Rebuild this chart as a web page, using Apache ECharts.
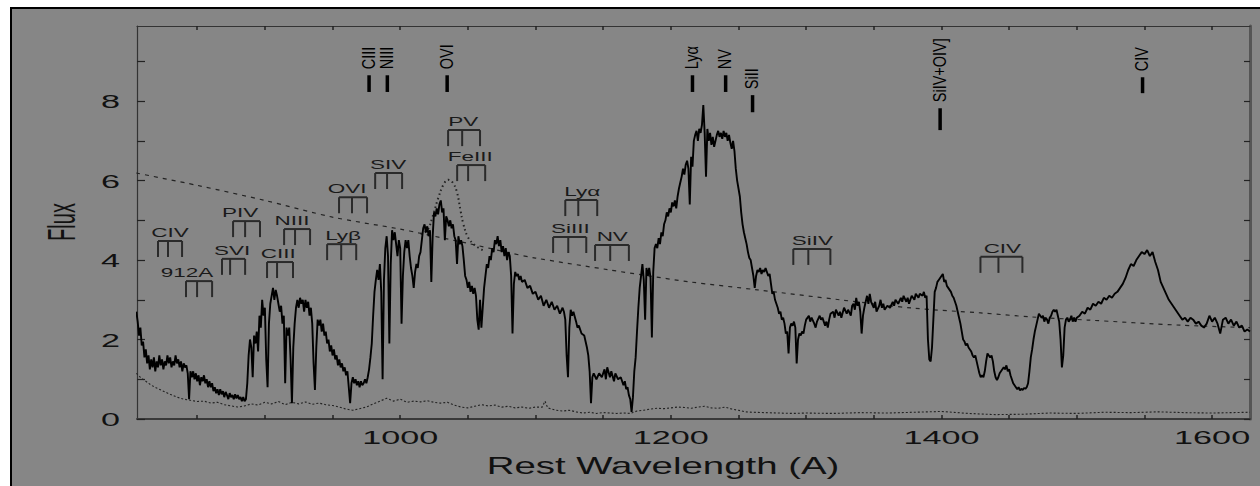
<!DOCTYPE html>
<html><head><meta charset="utf-8">
<script src="https://cdn.jsdelivr.net/npm/echarts@6/dist/echarts.min.js"></script>
<style>
html,body{margin:0;padding:0;background:#fff;}
#wrap{position:relative;width:1260px;height:486px;overflow:hidden;background:#fff;}
#panel{position:absolute;left:10px;top:7px;width:1320px;height:540px;background:#868686;border-left:2px solid #000;border-top:2px solid #000;box-sizing:border-box;}
#chart{position:absolute;left:0;top:0;width:1260px;height:486px;}
</style></head><body>
<div id="wrap"><div id="panel"></div><div id="chart"></div></div>
<script>
// ---- data ----
const spectrum = [
[805,2.70],[806,2.45],[807,2.1],[808,2.3],[809,1.85],[810,1.95],[811,1.55],[812,1.75],[813,1.4],[814,1.6],[815,1.25],[816,1.5],[817,1.3],[818,1.55],[819,1.2],[820,1.45],
[821,1.3],[822,1.6],[823,1.35],[824,1.5],[825,1.25],[826,1.45],[827,1.35],[828,1.6],[829,1.4],[830,1.55],[831,1.3],[832,1.45],[833,1.35],[834,1.6],[835,1.4],[836,1.5],
[837,1.3],[838,1.45],[839,1.2],[840,1.4],[841,1.3],[842,1.35],[843,1.15],[844,0.5],[845,1.2],[846,1.05],[847,1.2],[848,1.0],[849,1.15],[850,0.95],[851,1.1],[852,0.85],
[853,1.05],[854,0.95],[855,1.1],[856,0.9],[857,1.0],[858,0.8],[859,0.95],[860,0.8],[861,0.9],[862,0.7],[863,0.8],[864,0.65],[865,0.75],[866,0.6],[867,0.75],[868,0.62],
[869,0.7],[870,0.55],[871,0.68],[872,0.6],[873,0.5],[874,0.65],[875,0.55],[876,0.6],[877,0.5],[878,0.62],[879,0.52],[880,0.6],[881,0.5],[882,0.55],[883,0.45],[884,0.55],
[885,0.45],[886,0.5],[887,0.9],[888,1.6],[889,2.0],[890,1.8],[891,1.05],[892,2.1],[893,1.9],[894,2.2],[895,1.7],[896,2.6],[897,2.3],[898,3.0],[899,2.6],[900,2.8],
[901,1.5],[902,0.8],[903,2.4],[904,2.9],[905,3.1],[906,3.3],[907,3.0],[908,3.25],[909,3.1],[910,2.9],[911,2.7],[912,2.85],[913,2.4],[914,2.6],[915,0.9],[916,2.3],
[917,2.1],[918,2.3],[919,1.5],[920,0.4],[921,1.8],[922,2.4],[923,2.8],[924,3.0],[925,2.8],[926,3.05],[927,2.9],[928,3.0],[929,2.7],[930,3.0],[931,2.8],[932,2.95],
[933,2.6],[934,2.8],[935,2.4],[936,1.4],[937,0.73],[938,1.8],[939,2.5],[940,2.35],[941,2.5],[942,2.2],[943,2.4],[944,2.1],[945,2.2],[946,1.9],[947,2.0],[948,1.7],
[949,1.85],[950,1.6],[951,1.75],[952,1.5],[953,1.6],[954,1.35],[955,1.5],[956,1.3],[957,1.4],[958,1.2],[959,1.3],[960,1.1],[961,1.2],[962,0.8],[963,0.4],[964,0.9],
[965,1.05],[966,0.9],[967,1.0],[968,0.85],[969,0.95],[970,0.8],[971,0.95],[972,0.85],[973,0.9],[974,1.0],[975,0.9],[976,1.05],[977,1.25],[978,1.55],[979,1.9],[980,2.6],
[981,3.2],[982,3.5],[983,3.75],[984,3.5],[985,3.9],[986,3.2],[987,1.0],[988,3.5],[989,4.3],[990,4.6],[991,4.1],[992,1.9],[993,3.9],[994,4.75],[995,4.5],[996,4.7],
[997,4.4],[998,4.1],[999,4.5],[1000,4.3],[1001,2.4],[1002,3.6],[1003,4.2],[1004,4.5],[1005,4.3],[1006,4.5],[1007,4.1],[1008,3.8],[1009,3.6],[1010,3.3],[1011,3.7],[1012,3.9],
[1013,3.8],[1014,4.1],[1015,4.2],[1016,4.5],[1017,4.8],[1018,4.9],[1019,4.7],[1020,4.85],[1021,4.6],[1022,4.75],[1023,3.45],[1024,4.6],[1025,5.2],[1026,5.1],[1027,5.3],[1028,5.15],
[1029,5.4],[1030,5.5],[1031,5.2],[1032,5.3],[1033,4.5],[1034,5.1],[1035,5.0],[1036,4.85],[1037,5.0],[1038,4.8],[1039,4.9],[1040,4.6],[1041,4.5],[1042,3.9],[1043,4.6],[1044,4.4],
[1045,4.5],[1046,4.35],[1047,4.0],[1048,3.6],[1049,3.5],[1050,3.3],[1051,3.45],[1052,3.2],[1053,3.35],[1054,3.15],[1055,3.3],[1056,3.1],[1057,2.5],[1058,2.25],[1059,3.0],[1060,2.3],
[1061,2.8],[1062,3.3],[1063,3.6],[1064,3.9],[1065,3.8],[1066,4.1],[1067,4.0],[1068,4.3],[1069,4.2],[1070,4.5],[1071,4.4],[1072,4.6],[1073,4.35],[1074,4.5],[1075,4.2],[1076,4.35],
[1077,4.1],[1078,4.3],[1079,4.0],[1080,4.2],[1081,4.1],[1082,3.6],[1083,2.15],[1084,3.4],[1085,3.7],[1086,3.6],[1087,3.65],[1088,3.5],[1089,3.6],[1090,3.45],[1092,3.5],[1094,3.3],
[1096,3.35],[1098,3.15],[1100,3.2],[1102,3.0],[1104,3.1],[1106,2.85],[1108,3.0],[1110,2.8],[1112,2.95],[1114,2.75],[1116,2.85],[1118,2.65],[1120,2.8],[1121,2.7],[1122,2.5],[1123,1.6],
[1124,1.05],[1125,2.3],[1126,2.75],[1127,2.6],[1128,2.7],[1130,2.45],[1131,2.3],[1132,2.35],[1134,2.15],[1136,2.1],[1137,1.95],[1138,1.8],[1139,1.6],[1140,1.2],[1141,0.4],[1142,1.05],
[1143,1.15],[1145,1.0],[1147,1.15],[1149,1.05],[1151,1.25],[1152,1.0],[1153,1.3],[1155,1.05],[1156,1.2],[1158,0.95],[1159,1.15],[1161,1.0],[1163,1.05],[1165,0.85],[1166,0.95],[1167,0.75],
[1168,0.8],[1169,0.6],[1170,0.5],[1171,0.18],[1172,0.55],[1173,1.2],[1174,1.55],[1175,2.2],[1176,2.8],[1177,3.3],[1178,3.6],[1179,3.9],[1180,3.5],[1181,2.5],[1182,3.8],[1183,3.6],
[1184,3.8],[1185,3.55],[1186,2.05],[1187,3.7],[1188,4.3],[1189,4.4],[1190,4.3],[1191,4.55],[1192,4.4],[1193,4.7],[1194,4.6],[1195,4.9],[1196,5.0],[1197,5.2],[1198,5.1],[1199,5.3],
[1200,5.2],[1201,5.45],[1202,5.35],[1203,5.5],[1204,5.3],[1205,5.6],[1206,5.8],[1207,5.95],[1208,6.1],[1209,6.3],[1210,6.15],[1211,6.4],[1212,6.5],[1213,6.3],[1214,5.4],[1215,6.6],
[1216,6.35],[1217,7.0],[1218,7.15],[1219,7.25],[1220,7.0],[1221,7.3],[1222,7.2],[1223,7.4],[1224,7.9],[1225,7.2],[1226,6.1],[1227,7.3],[1228,7.0],[1229,7.2],[1230,6.9],[1231,7.1],
[1232,6.85],[1233,7.0],[1234,7.15],[1235,7.25],[1236,7.1],[1237,7.2],[1238,7.05],[1239,7.25],[1240,7.1],[1241,7.2],[1242,7.0],[1243,7.15],[1244,6.95],[1245,6.8],[1246,7.0],[1247,6.75],
[1248,6.3],[1249,6.0],[1250,5.8],[1251,5.6],[1252,5.2],[1253,4.9],[1254,4.7],[1255,4.55],[1256,4.4],[1257,4.2],[1258,4.05],[1259,4.0],[1260,3.8],[1261,3.6],[1262,3.3],[1263,3.6],
[1264,3.75],[1265,3.7],[1266,3.8],[1267,3.65],[1268,3.75],[1269,3.7],[1270,3.8],[1271,3.7],[1272,3.6],[1273,3.65],[1274,3.4],[1275,3.15],[1276,3.2],[1277,3.0],[1278,2.9],[1279,2.8],
[1280,2.65],[1281,2.7],[1282,2.5],[1283,2.55],[1284,2.4],[1285,2.15],[1286,2.2],[1287,1.65],[1288,2.3],[1289,2.4],[1290,2.35],[1291,2.45],[1292,2.3],[1293,1.4],[1294,2.0],[1295,2.15],
[1296,2.1],[1297,2.2],[1298,2.15],[1299,2.35],[1300,2.5],[1302,2.6],[1303,2.45],[1304,2.55],[1306,2.4],[1307,2.3],[1308,2.45],[1310,2.6],[1311,2.5],[1312,2.55],[1314,2.35],[1315,2.45],
[1316,2.3],[1317,2.5],[1318,2.65],[1320,2.7],[1321,2.55],[1322,2.75],[1324,2.6],[1325,2.7],[1326,2.55],[1328,2.8],[1330,2.65],[1331,2.75],[1333,2.6],[1334,2.85],[1335,2.9],[1336,2.75],
[1337,3.05],[1338,2.85],[1339,2.95],[1340,2.7],[1341,2.15],[1342,2.6],[1343,2.8],[1344,2.95],[1345,3.1],[1346,2.9],[1347,3.15],[1348,2.95],[1350,2.8],[1351,2.95],[1352,2.7],[1354,2.85],
[1355,3.0],[1356,2.8],[1357,2.9],[1358,2.75],[1360,2.85],[1362,2.8],[1364,2.95],[1365,2.85],[1366,3.0],[1368,2.9],[1370,3.05],[1371,2.95],[1372,3.1],[1374,2.95],[1375,3.05],[1376,2.9],
[1378,3.1],[1380,3.0],[1381,3.15],[1383,3.05],[1384,3.15],[1386,3.1],[1387,3.2],[1388,3.05],[1389,3.1],[1390,2.0],[1391,1.5],[1392,1.45],[1393,1.8],[1394,2.5],[1395,3.2],[1396,3.3],
[1397,3.45],[1398,3.5],[1399,3.55],[1400,3.6],[1401,3.65],[1402,3.45],[1403,3.5],[1404,3.35],[1405,3.3],[1406,3.25],[1407,3.2],[1408,3.1],[1409,3.05],[1410,2.95],[1411,2.85],[1412,2.7],
[1413,2.55],[1414,2.4],[1415,2.2],[1416,2.0],[1417,1.95],[1418,1.85],[1419,1.9],[1420,1.8],[1421,1.75],[1422,1.7],[1423,1.6],[1424,1.55],[1425,1.6],[1426,1.45],[1427,1.3],[1428,1.15],
[1429,1.05],[1430,1.1],[1431,1.05],[1432,1.2],[1433,1.45],[1434,1.65],[1435,1.6],[1436,1.55],[1437,1.6],[1438,1.45],[1439,1.2],[1440,1.05],[1441,0.98],[1442,1.05],[1443,1.15],[1444,1.2],
[1445,1.25],[1446,1.3],[1447,1.25],[1448,1.35],[1449,1.2],[1450,1.25],[1451,1.1],[1452,1.0],[1453,0.9],[1454,0.85],[1455,0.8],[1456,0.75],[1457,0.8],[1458,0.72],[1459,0.76],[1460,0.73],
[1461,0.78],[1462,0.76],[1463,0.8],[1464,0.9],[1465,1.2],[1466,1.55],[1467,1.75],[1468,2.0],[1469,2.2],[1470,2.35],[1471,2.5],[1472,2.65],[1473,2.6],[1474,2.55],[1475,2.6],[1476,2.45],
[1477,2.55],[1478,2.5],[1479,2.4],[1480,2.55],[1481,2.6],[1482,2.7],[1483,2.75],[1484,2.7],[1485,2.75],[1486,2.6],[1487,2.45],[1488,2.0],[1489,1.3],[1490,1.6],[1491,2.3],[1492,2.5],
[1493,2.55],[1494,2.45],[1495,2.5],[1496,2.6],[1497,2.45],[1498,2.55],[1499,2.45],[1500,2.55],[1502,2.6],[1504,2.7],[1506,2.65],[1508,2.8],[1510,2.75],[1512,2.9],[1514,2.85],[1516,2.95],
[1518,2.9],[1520,3.05],[1522,3.0],[1524,3.1],[1526,3.05],[1528,3.15],[1530,3.2],[1532,3.3],[1534,3.4],[1536,3.55],[1538,3.75],[1540,3.9],[1542,3.85],[1544,4.0],[1546,4.1],[1548,4.2],
[1550,4.15],[1552,4.25],[1554,4.1],[1556,4.2],[1558,3.95],[1560,3.75],[1562,3.45],[1564,3.3],[1566,3.15],[1568,3.0],[1570,2.9],[1572,2.8],[1574,2.7],[1576,2.6],[1578,2.5],[1580,2.55],
[1582,2.45],[1584,2.55],[1586,2.5],[1588,2.4],[1590,2.45],[1592,2.35],[1594,2.3],[1596,2.4],[1598,2.6],[1600,2.45],[1602,2.55],[1604,2.4],[1606,2.15],[1608,2.5],[1610,2.55],[1612,2.4],
[1614,2.5],[1616,2.35],[1618,2.45],[1620,2.3],[1622,2.35],[1624,2.2],[1626,2.25],[1628,2.2]
];
const continuum = [[805,6.19],[850,5.88],[900,5.5],[950,5.08],[1000,4.78],[1014,4.68],[1050,4.42],[1081,4.18],[1100,4.05],[1155,3.75],[1180,3.62],[1214,3.45],[1264,3.25],[1325,3.0],[1379,2.79],[1429,2.67],[1466,2.57],[1508,2.49],[1577,2.36],[1628,2.3]];
const ovBump = [[1015,4.66],[1020,4.75],[1024,5.1],[1028,5.55],[1032,5.9],[1035.5,6.02],[1039,5.94],[1042,5.7],[1044.5,5.26],[1046.5,4.93],[1050,4.58],[1055,4.38],[1061,4.25]];
const errorSpec = [[805,1.15],[808,1.05],[812,0.95],[816,0.85],[820,0.78],[825,0.7],[830,0.62],[835,0.55],[840,0.5],[845,0.47],[850,0.44],[855,0.45],[860,0.4],[865,0.42],[870,0.36],[875,0.33],[880,0.3],[885,0.33],[890,0.38],[895,0.35],[900,0.42],[905,0.38],[910,0.44],[915,0.36],[920,0.42],[925,0.38],[930,0.43],[935,0.37],[940,0.4],[945,0.36],[950,0.34],[955,0.3],[960,0.25],[965,0.22],[970,0.26],[975,0.3],[980,0.38],[985,0.45],[990,0.52],[995,0.45],[1000,0.5],[1005,0.42],[1010,0.45],[1015,0.43],[1020,0.46],[1025,0.42],[1030,0.4],[1035,0.42],[1040,0.35],[1045,0.3],[1050,0.28],[1055,0.32],[1060,0.36],[1065,0.33],[1070,0.35],[1075,0.3],[1080,0.32],[1085,0.28],[1090,0.3],[1095,0.27],[1100,0.3],[1105,0.3],[1107,0.45],[1109,0.28],[1115,0.22],[1120,0.2],[1125,0.22],[1130,0.18],[1135,0.15],[1140,0.17],[1145,0.14],[1150,0.16],[1155,0.15],[1160,0.14],[1165,0.15],[1170,0.14],[1175,0.2],[1180,0.22],[1185,0.25],[1190,0.27],[1195,0.26],[1200,0.28],[1205,0.3],[1210,0.29],[1215,0.27],[1220,0.3],[1225,0.32],[1230,0.28],[1235,0.27],[1240,0.3],[1245,0.25],[1250,0.22],[1255,0.18],[1260,0.17],[1270,0.16],[1280,0.15],[1290,0.14],[1300,0.15],[1320,0.14],[1340,0.16],[1360,0.15],[1380,0.17],[1400,0.19],[1420,0.14],[1440,0.11],[1460,0.12],[1480,0.15],[1500,0.14],[1520,0.17],[1540,0.16],[1560,0.18],[1580,0.16],[1600,0.15],[1628,0.17]];

// emission line identifications (top)
const emNames = ['CIII','NIII','OVI','Ly\u03b1','NV','SiII','SiIV+OIV]','CIV'];
const emWaves = [977,990.5,1034.7,1216,1240.5,1260.4,1399,1548.6];
const emTop = [8.65,8.65,8.65,8.65,8.65,8.15,7.82,8.6];
const emBottom = [8.23,8.23,8.23,8.23,8.23,7.72,7.27,8.2];

// absorption line markers (combs)
const absNames = ['CIV','912A','PIV','SVI','NIII','CIII','Ly\u03b2','OVI','SIV','PV','FeIII','Ly\u03b1','SiIII','NV','SiIV','CIV'];
const absProngs = [[821,828.4,838.8],[841.7,849.9,861],[876.5,885.4,896.4],[868.3,874.3,885.4],[914.2,922.3,933.4],[901.6,909,920.8],[946,956.4,967.5],[954.8,964.4,975.5],[981.5,990.3,1001.4],[1035.4,1045.8,1059],[1042.1,1050.2,1062.8],[1122,1131.6,1145.6],[1113,1124.2,1137.5],[1144,1155.2,1169],[1290.5,1301.6,1317.9],[1428.8,1442.1,1459.8]];
const absLevel = [4.48,3.47,4.98,4.03,4.78,3.95,4.40,5.58,6.19,7.27,6.39,5.51,4.58,4.38,4.28,4.08];
const absLabelWave = [829.9,842.5,881.7,875.8,920.1,909.8,957.8,960.8,991,1046.5,1051.7,1134.5,1125.7,1156.7,1304.6,1445];

const xTickValues = [850,900,950,1000,1050,1100,1150,1200,1250,1300,1350,1400,1450,1500,1550,1600];
const xLabelValues = [1000,1200,1400,1600];
const yTickValues = [0,1,2,3,4,5,6,7,8,9];
const yLabelValues = [0,2,4,6,8];
const X_MIN = 805.5, X_MAX = 1628, Y_MIN = 0, Y_MAX = 9.89;

// ---- chart ----
const chart = echarts.init(document.getElementById('chart'), null, {renderer: 'svg'});
const FONT = '"Liberation Sans", Arial, sans-serif';
function txt(o){ // text style with both naming conventions
  return Object.assign({fontFamily: FONT, fill: '#111'}, o, {textAlign: o.align, textVerticalAlign: o.verticalAlign});
}
const axisCommon = {type: 'value', min: X_MIN, max: X_MAX, splitLine: {show: false}, axisLabel: {show: false}};
const option = {
  animation: false,
  backgroundColor: 'transparent',
  grid: {left: 137, right: 10, top: 26, bottom: 67},
  xAxis: [
    Object.assign({}, axisCommon, {position: 'bottom',
      axisLine: {onZero: false, lineStyle: {color: '#3a3a3a', width: 2}},
      axisTick: {inside: true, length: 4, customValues: xTickValues, lineStyle: {color: '#222', width: 1.5}}}),
    Object.assign({}, axisCommon, {position: 'top',
      axisLine: {onZero: false, lineStyle: {color: '#333', width: 1.2}},
      axisTick: {inside: true, length: 4, customValues: xTickValues, lineStyle: {color: '#222', width: 1.5}}})
  ],
  yAxis: [
    {type: 'value', min: Y_MIN, max: Y_MAX, position: 'left', splitLine: {show: false}, axisLabel: {show: false},
      axisLine: {onZero: false, lineStyle: {color: '#333', width: 1.2}},
      axisTick: {inside: true, length: 8, customValues: yTickValues, lineStyle: {color: '#222', width: 1.2}}},
    {type: 'value', min: Y_MIN, max: Y_MAX, position: 'right', splitLine: {show: false}, axisLabel: {show: false},
      axisLine: {onZero: false, lineStyle: {color: '#555', width: 3}},
      axisTick: {inside: true, length: 6, customValues: yTickValues, lineStyle: {color: '#222', width: 1.2}}}
  ],
  graphic: [
    {type: 'text', x: 663, y: 466, scaleX: 1.6, style: txt({text: 'Rest Wavelength (A)', fontSize: 24, align: 'center', verticalAlign: 'middle'})},
    {type: 'text', x: 61.5, y: 222, rotation: Math.PI / 2, scaleY: 1.9, style: txt({text: 'Flux', fontSize: 20, align: 'center', verticalAlign: 'middle'})}
  ],
  series: [
    {type: 'line', name: 'error', data: errorSpec, showSymbol: false, symbol: 'none', z: 2,
      lineStyle: {color: '#222', width: 1.1, type: [2, 2]}},
    {type: 'line', name: 'continuum', data: continuum, showSymbol: false, symbol: 'none', smooth: 0.3, z: 2,
      lineStyle: {color: '#222', width: 1.2, type: [4, 5]}},
    {type: 'line', name: 'OVI model', data: ovBump, showSymbol: false, symbol: 'none', smooth: 0.4, z: 2,
      lineStyle: {color: '#222', width: 2, type: [1.5, 3]}},
    {type: 'line', name: 'spectrum', data: spectrum, showSymbol: false, symbol: 'none', sampling: null, z: 4,
      lineStyle: {color: '#000', width: 1.9}},
    // emission-line identifications
    {type: 'custom', name: 'emission ids', z: 5, data: emNames.map((n, i) => [emWaves[i], emTop[i]]),
      renderItem: function (params, api) {
        const i = params.dataIndex;
        const t = api.coord([emWaves[i], emTop[i]]);
        const b = api.coord([emWaves[i], emBottom[i]]);
        return {type: 'group', children: [
          {type: 'line', shape: {x1: t[0], y1: t[1], x2: b[0], y2: b[1]}, style: {stroke: '#000', lineWidth: 3.5}},
          {type: 'text', x: t[0] - 1, y: t[1] - 6, rotation: Math.PI / 2, scaleX: 1, scaleY: 1.25,
            style: txt({text: emNames[i], fontSize: 14.5, align: 'left', verticalAlign: 'middle', fill: '#000'})}
        ]};
      }},
    // absorption-line combs
    {type: 'custom', name: 'absorption ids', z: 5, data: absNames.map((n, i) => [absLabelWave[i], absLevel[i]]),
      renderItem: function (params, api) {
        const i = params.dataIndex;
        const lv = absLevel[i];
        const p = absProngs[i].map(w => api.coord([w, lv]));
        const children = [{type: 'line', shape: {x1: p[0][0], y1: p[0][1], x2: p[2][0], y2: p[2][1]}, style: {stroke: '#2a2a2a', lineWidth: 2}}];
        p.forEach(q => children.push({type: 'line', shape: {x1: q[0], y1: q[1], x2: q[0], y2: q[1] + 16}, style: {stroke: '#2a2a2a', lineWidth: 2}}));
        const lp = api.coord([absLabelWave[i], lv]);
        children.push({type: 'text', x: lp[0], y: lp[1] - 8, scaleX: 1.8,
          style: txt({text: absNames[i], fontSize: 12.5, align: 'center', verticalAlign: 'middle', fill: '#1a1a1a'})});
        return {type: 'group', children: children};
      }},
    // tick labels, x
    {type: 'custom', name: 'x labels', z: 5, data: xLabelValues.map(v => [v, Y_MIN]),
      renderItem: function (params, api) {
        const v = xLabelValues[params.dataIndex];
        const p = api.coord([v, Y_MIN]);
        return {type: 'text', x: p[0], y: p[1] + 19, scaleX: 1.9,
          style: txt({text: String(v), fontSize: 18, align: 'center', verticalAlign: 'middle'})};
      }},
    // tick labels, y
    {type: 'custom', name: 'y labels', z: 5, data: yLabelValues.map(v => [X_MIN, v]),
      renderItem: function (params, api) {
        const v = yLabelValues[params.dataIndex];
        const p = api.coord([X_MIN, v]);
        return {type: 'text', x: p[0] - 17, y: p[1] + 1, scaleX: 1.9,
          style: txt({text: String(v), fontSize: 18, align: 'right', verticalAlign: 'middle'})};
      }}
  ]
};
chart.setOption(option);
</script>
</body></html>
